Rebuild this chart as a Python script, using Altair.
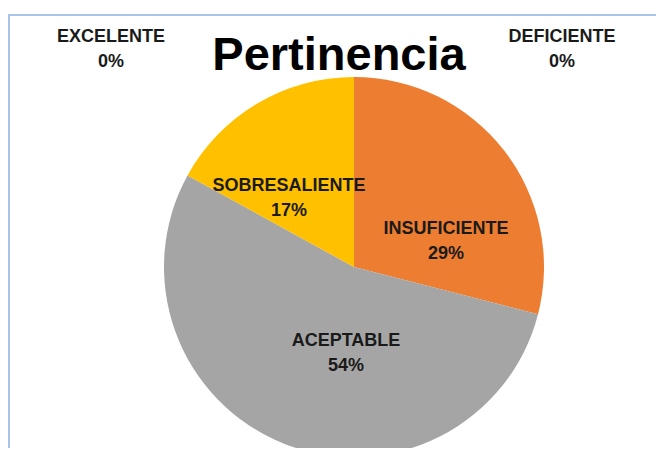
import altair as alt
import pandas as pd

title_text = "Pertinencia"
categories = ["DEFICIENTE", "INSUFICIENTE", "ACEPTABLE", "SOBRESALIENTE", "EXCELENTE"]
percents = [0, 29, 54, 17, 0]
colors = ["#5B9BD5", "#ED7D31", "#A5A5A5", "#FFC000", "#4472C4"]

df = pd.DataFrame({"cat": categories, "pct": percents, "idx": list(range(len(categories)))})

W, H = 648, 440
CX, CY, R = 346, 259, 190
FONT = "Liberation Sans"

base = alt.Chart(df)

pie = base.mark_arc(radius=R).encode(
    theta=alt.Theta("pct:Q", stack=True),
    color=alt.Color("cat:N", scale=alt.Scale(domain=categories, range=colors), legend=None),
    order=alt.Order("idx:Q"),
    x=alt.value(CX),
    y=alt.value(CY),
)

# first-line centre of each two-line label
label_pos = {
    "EXCELENTE": (103, 29),
    "DEFICIENTE": (554, 29),
    "SOBRESALIENTE": (281, 178),
    "INSUFICIENTE": (438, 221),
    "ACEPTABLE": (338, 333),
}

labels = []
for cat, (lx, ly) in label_pos.items():
    labels.append(
        base.transform_filter(alt.datum.cat == cat)
        .transform_calculate(label="datum.cat + '\\n' + datum.pct + '%'")
        .mark_text(
            lineBreak="\n", lineHeight=25, font=FONT, fontSize=18, fontWeight="bold",
            color="#1a1a1a", align="center", baseline="middle",
        )
        .encode(text="label:N", x=alt.value(lx), y=alt.value(ly))
    )

title = alt.Chart(pd.DataFrame({"t": [title_text]})).mark_text(
    font=FONT, fontSize=47, fontWeight="bold", color="#000000",
    align="center", baseline="alphabetic",
).encode(text="t:N", x=alt.value(331), y=alt.value(62))

border_top = alt.Chart(pd.DataFrame({"a": [0]})).mark_rule(color="#A9C4E4", strokeWidth=2).encode(
    x=alt.value(0), x2=alt.value(W), y=alt.value(7)
)
border_left = alt.Chart(pd.DataFrame({"a": [0]})).mark_rule(color="#A9C4E4", strokeWidth=2).encode(
    x=alt.value(1), y=alt.value(7), y2=alt.value(H)
)

chart = alt.layer(border_top, border_left, pie, title, *labels).properties(
    width=W, height=H, autosize=alt.AutoSizeParams(type="none"), padding=0, background="white"
).configure_view(stroke=None)

chart.save("out.html", embed_options={"renderer": "svg", "actions": False})
